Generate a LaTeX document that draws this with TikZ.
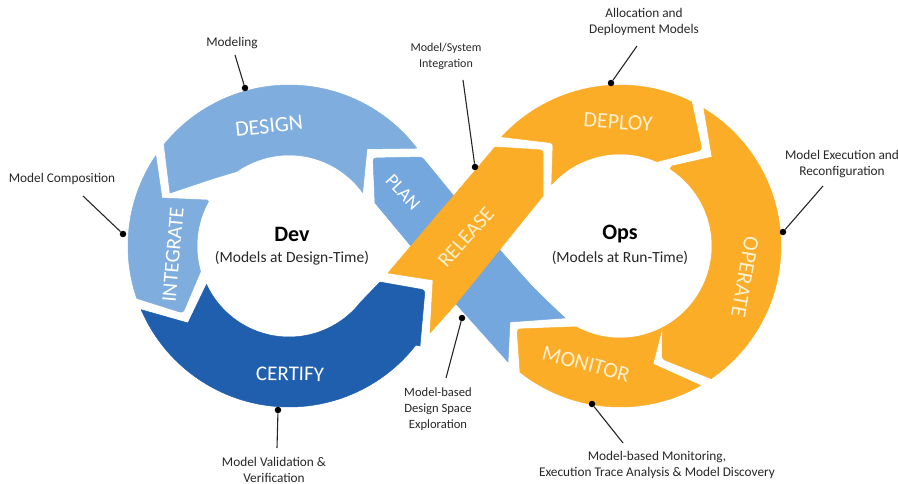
\documentclass[tikz,border=0pt]{standalone}
\usepackage{fontspec}
\setmainfont{Carlito}
\definecolor{lblue}{HTML}{7FADDD}
\definecolor{planblue}{HTML}{74A7DD}
\definecolor{dblue}{HTML}{1F5FAD}
\definecolor{orng}{HTML}{FBAD28}
\definecolor{cream}{HTML}{FDF0CF}
\newcommand{\fs}[1]{\fontsize{#1}{16}\selectfont}
\tikzset{
  seg/.style={line width=0.5pt,line join=round},
  rnd/.style={smooth,samples=30,variable=\a},
  note/.style={font=\fs{13.3},align=center,inner sep=0pt,text=black!85},
  stage/.style={font=\fs{21},text=white,inner sep=0pt},
  ostage/.style={font=\fs{22},text=cream,inner sep=0pt},
  pin/.style={circle,fill=black,inner sep=0pt,minimum size=6.5pt},
  lead/.style={line width=1.1pt,black!85},
  title/.style={font=\bfseries\fs{22},text=black,inner sep=0pt},
  sub/.style={font=\fs{15.5},text=black!85,inner sep=0pt}
}
\begin{document}
\begin{tikzpicture}[x=1pt,y=-1pt]
\useasboundingbox (0,0) rectangle (898,484);
% Dev loop: outer circle centre (289,246) r 161, inner r 91
\filldraw[seg,draw=lblue,fill=lblue] plot[rnd,domain=140.9:37.4] ({289+161*cos(\a)},{246-161*sin(\a)}) -- (367,149) -- plot[rnd,domain=36:125] ({289+91*cos(\a)},{246-91*sin(\a)}) -- (215,178) -- (170,193) -- cycle;
\filldraw[seg,draw=lblue,fill=lblue] plot[rnd,domain=145.8:199] ({289+161*cos(\a)},{246-161*sin(\a)}) [rounded corners=3pt] -- (183,313) [sharp corners] -- plot[rnd,domain=196:151] ({289+92*cos(\a)},{246-92*sin(\a)}) -- (207,200) -- (162,198) -- cycle;
\filldraw[seg,draw=dblue,fill=dblue] plot[rnd,domain=203.3:322] ({289+161*cos(\a)},{246-161*sin(\a)}) -- (420,346) [rounded corners=3pt] -- (425,290) [sharp corners] -- (380,282) -- plot[rnd,domain=322:205] ({289+91*cos(\a)},{246-91*sin(\a)}) -- (188,323) -- cycle;
% Plan band
\filldraw[seg,draw=planblue,fill=planblue] (375,203) [rounded corners=3pt] -- (373,158) -- (422,157) [sharp corners] -- (453,195) -- plot[smooth] coordinates {(500,250)(533,287)(565,318)} -- (510,322) -- (508,362) -- (457,305) -- (410,245) -- cycle;
% Ops loop: centre (620,246), outer r 161, inner r 92
\filldraw[seg,draw=orng,fill=orng] plot[rnd,domain=137.3:63.6] ({620+161*cos(\a)},{246-161*sin(\a)}) [rounded corners=3pt] -- (702,150) [sharp corners] -- plot[rnd,domain=66.4:138] ({620+92*cos(\a)},{246-92*sin(\a)}) [rounded corners=3pt] -- (553,143) [sharp corners] -- cycle;
\filldraw[seg,draw=orng,fill=orng] plot[rnd,domain=58.6:-55.5] ({620+161*cos(\a)},{246-161*sin(\a)}) [rounded corners=3pt] -- (662,359) [sharp corners] -- plot[rnd,domain=-62.6:57] ({620+92*cos(\a)},{246-92*sin(\a)}) -- (672,166) -- (712,157) -- cycle;
\filldraw[seg,draw=orng,fill=orng] (520,372) [rounded corners=3pt] -- (517,329) [sharp corners] -- plot[rnd,domain=-118.6:-62.6] ({620+92*cos(\a)},{246-92*sin(\a)}) -- (653,364) -- plot[rnd,domain=-60:-128.4] ({620+161*cos(\a)},{246-161*sin(\a)}) -- cycle;
% Release arrow
\filldraw[seg,draw=orng,fill=orng] (388,273) -- (495,147) [rounded corners=3pt] -- (543,150) [sharp corners] -- (543,196) -- (455,305) -- (430,333) -- (433,280) -- cycle;
% Stage labels
\node[stage,font=\fs{22},rotate=6] (design) at (269,126) {DESIGN};
\node[stage,rotate=85] (integrate) at (173,255) {INTEGRATE};
\node[stage,rotate=-1] (certify) at (290,374) {CERTIFY};
\node[stage,font=\fs{19},rotate=-47] (plan) at (403,192) {PLAN};
\node[ostage,font=\fs{21},rotate=48] (release) at (466,237) {RELEASE};
\node[ostage,rotate=-4] (deploy) at (618,122) {DEPLOY};
\node[ostage,rotate=-100] (operate) at (745,277) {OPERATE};
\node[ostage,rotate=-15] (monitor) at (586,364) {MONITOR};
% Centres
\node[title] (dev) at (292,234) {Dev};
\node[sub] (devsub) at (292,258) {(Models at Design-Time)};
\node[title] (ops) at (620,234) {Ops};
\node[sub] (opssub) at (620,258) {(Models at Run-Time)};
% Notes
\node[note] (modeling) at (232,43) {Modeling};
\node[note] (composition) at (62,179) {Model Composition};
\node[note,font=\fs{12}] (integration) at (446,56) {Model/System\\Integration};
\node[note] (allocation) at (644,22) {Allocation and\\Deployment Models};
\node[note] (execution) at (842,164) {Model Execution and\\Reconfiguration};
\node[note] (validation) at (274,469.5) {Model Validation \&\\Verification};
\node[note,font=\fs{12.6}] (space) at (438,409) {Model-based\\Design Space\\Exploration};
\node[note] (monitoring) at (657,465) {Model-based Monitoring,\\Execution Trace Analysis \& Model Discovery};
% Pins and free ends of the leaders
\node[pin] (p1) at (245,88) {};
\node[pin] (p2) at (123,234) {};
\node[pin] (p3) at (475,167) {};
\node[pin] (p4) at (611,83) {};
\node[pin] (p5) at (783,232) {};
\node[pin] (p6) at (278,410) {};
\node[pin] (p7) at (462,318) {};
\node[pin] (p8) at (592,404) {};
\coordinate (c1) at (235,55);
\coordinate (c2) at (83,196);
\coordinate (c3) at (463,80);
\coordinate (c4) at (637,46);
\coordinate (c5) at (823,186);
\coordinate (c6) at (277,448);
\coordinate (c7) at (446,378);
\coordinate (c8) at (623,443);
\draw[lead] (c1) -- (p1);
\draw[lead] (c2) -- (p2);
\draw[lead] (c3) -- (p3);
\draw[lead] (c4) -- (p4);
\draw[lead] (c5) -- (p5);
\draw[lead] (c6) -- (p6);
\draw[lead] (c7) -- (p7);
\draw[lead] (c8) -- (p8);
\end{tikzpicture}
\end{document}
